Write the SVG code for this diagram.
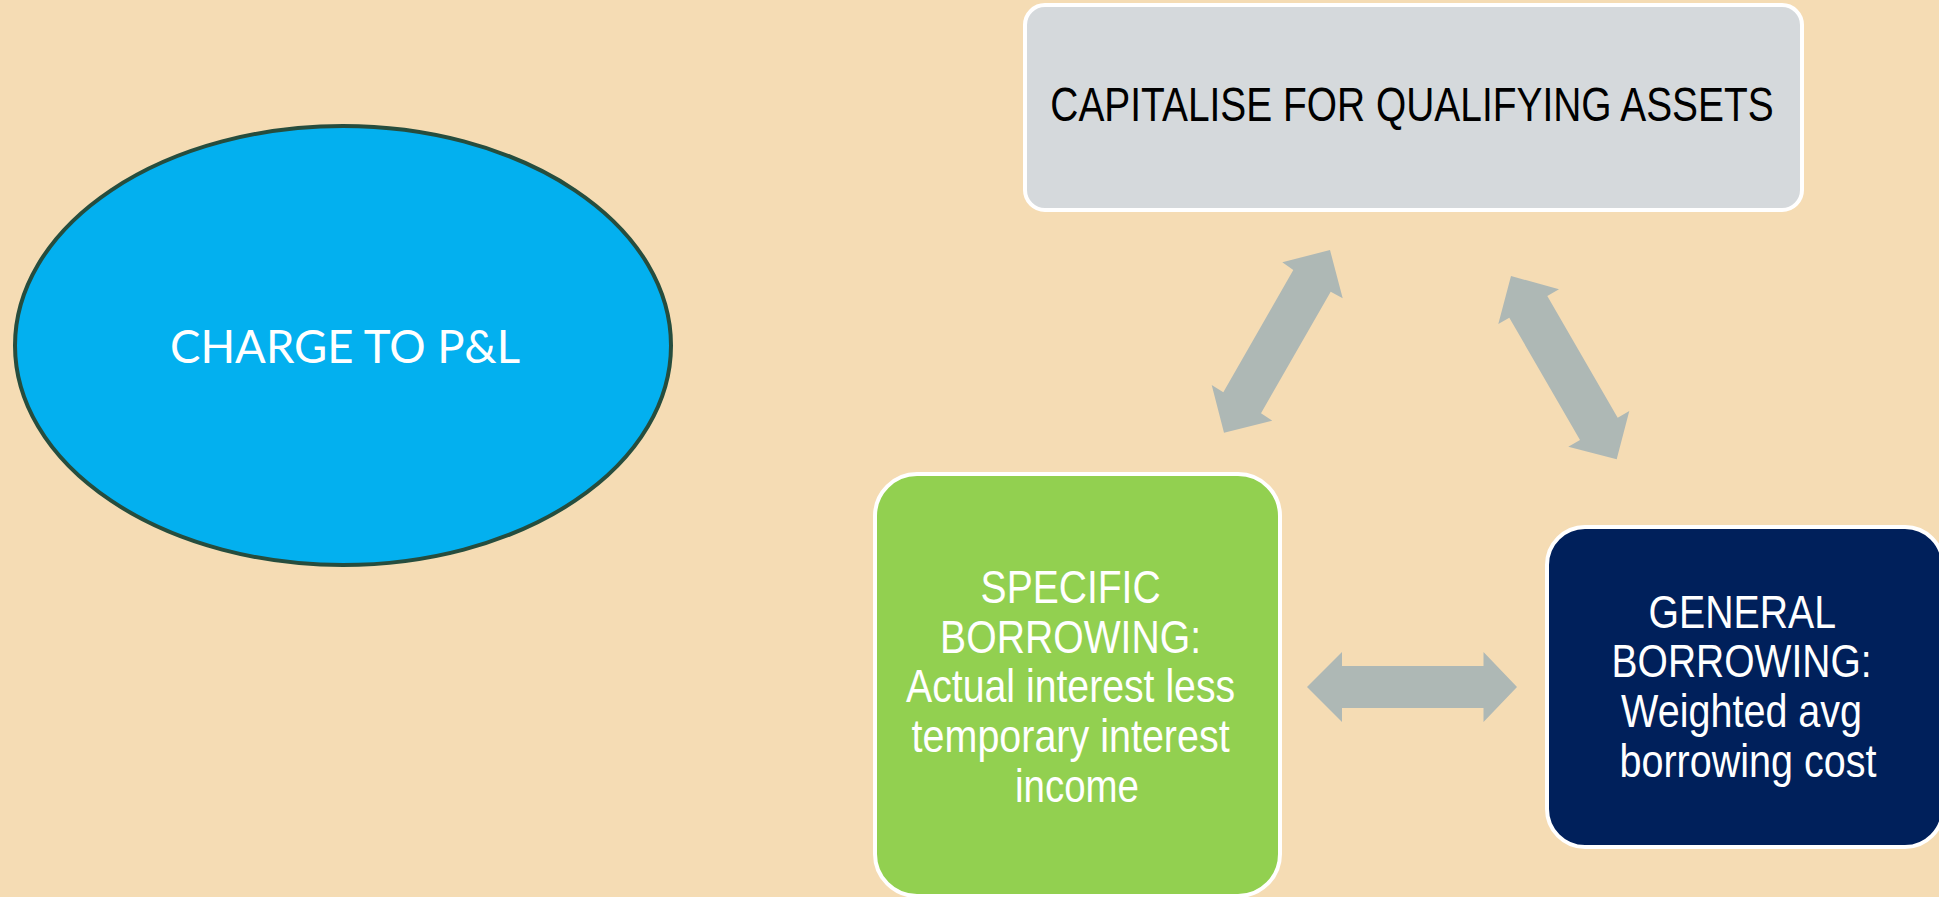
<svg xmlns="http://www.w3.org/2000/svg" width="1939" height="897" viewBox="0 0 1939 897">
<style>
.nar{font-family:"Liberation Sans Narrow","Liberation Sans",Arial,sans-serif;text-anchor:middle}
.w{fill:#ffffff}
.arrow{fill:#aeb8b5;stroke:none}
</style>
<rect x="0" y="0" width="1939" height="897" fill="#f5dcb4"/>
<g id="charge">
<ellipse cx="343" cy="345.5" rx="328" ry="219.5" fill="#03b0ef" stroke="#264d3e" stroke-width="4"/>
<text x="345" y="363" font-family="Lato,'Open Sans',sans-serif" font-size="46" fill="#ffffff" text-anchor="middle" textLength="350" lengthAdjust="spacingAndGlyphs">CHARGE TO P&amp;L</text>
</g>
<g id="capitalise">
<rect x="1025" y="5" width="777" height="205" rx="20" fill="#d5d9dc" stroke="#ffffff" stroke-width="4"/>
<text x="0" y="0" transform="translate(1412,121) scale(0.794,1)" font-family="'Liberation Sans',Arial,sans-serif" font-size="49" fill="#000000" text-anchor="middle">CAPITALISE FOR QUALIFYING ASSETS</text>
</g>
<g id="specific">
<rect x="875" y="474" width="405" height="422" rx="42" fill="#92d050" stroke="#ffffff" stroke-width="4"/>
<text class="nar w" font-size="46">
<tspan x="1077" y="602.5" textLength="180" lengthAdjust="spacingAndGlyphs">SPECIFIC</tspan>
<tspan x="1077" y="652.5" textLength="261" lengthAdjust="spacingAndGlyphs">BORROWING:</tspan>
<tspan x="1077" y="701.5" textLength="329" lengthAdjust="spacingAndGlyphs">Actual interest less</tspan>
<tspan x="1077" y="751.5" textLength="318" lengthAdjust="spacingAndGlyphs">temporary interest</tspan>
<tspan x="1077" y="801.5" textLength="124" lengthAdjust="spacingAndGlyphs">income</tspan>
</text>
</g>
<g id="general">
<rect x="1547" y="527" width="396" height="320" rx="38" fill="#00205b" stroke="#ffffff" stroke-width="4"/>
<text class="nar w" font-size="46">
<tspan x="1748" y="627.5" textLength="186" lengthAdjust="spacingAndGlyphs">GENERAL</tspan>
<tspan x="1748" y="676.5" textLength="260" lengthAdjust="spacingAndGlyphs">BORROWING:</tspan>
<tspan x="1748" y="726.5" textLength="241" lengthAdjust="spacingAndGlyphs">Weighted avg</tspan>
<tspan x="1748" y="776.5" textLength="257" lengthAdjust="spacingAndGlyphs">borrowing cost</tspan>
</text>
</g>
<g id="connectors">
<polygon class="arrow" points="1330,250 1342.7,298.3 1330.7,291.7 1261,413.3 1272.3,420.7 1224,432.7 1211.7,385 1223.3,392.3 1293.3,270 1282.3,262.3"/>
<polygon class="arrow" points="1511,276 1559,289.3 1547.3,296 1617.7,417.7 1629.3,411 1616.7,459.3 1568.3,446.7 1580,440 1509.3,317.7 1498.3,324"/>
<polygon class="arrow" points="1307,687 1342,652 1342,666 1483.5,666 1483.5,652 1517,687 1483.5,722 1483.5,708 1342,708 1342,722"/>
</g>
</svg>
